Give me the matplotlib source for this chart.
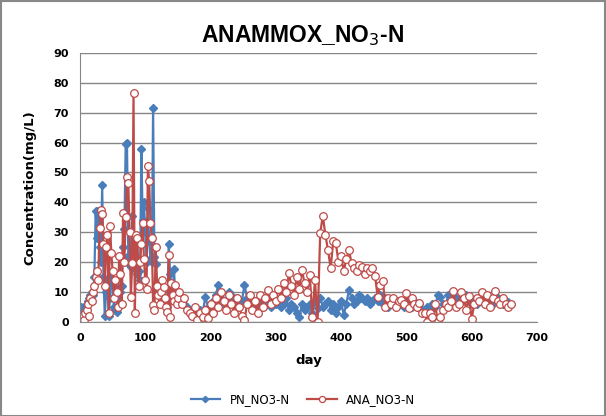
import numpy as np
import matplotlib.pyplot as plt
from matplotlib.patches import Rectangle

# sample days: every 2 days early on, every 4 days afterwards
early_days = np.arange(0, 151, 2)
late_days = np.arange(152, 661, 4)
days = np.concatenate([early_days, late_days])

ana_early = [
    0.5, 1, 2, 0.7, 3, 4, 6, 2, 8, 7,
    10, 12, 15, 17, 14, 31.5, 37.5, 36, 26, 12,
    25, 29, 3, 32, 23, 17, 8, 14, 10, 5,
    22, 16, 6, 36.5, 20, 35, 48.5, 46.5, 30, 8.5,
    19.8, 76.5, 3, 29, 28, 12, 20, 26, 33, 21,
    14, 11, 52, 47, 33, 28, 5.7, 4, 25, 12,
    9, 6, 10, 14, 11.8, 8, 5, 3.5, 22.4, 1.5,
    13, 9, 7, 12.5, 6, 8,
]
ana_late = [
    10, 6, 8, 4, 3, 2, 5, 0.7, 3, 1.5, 4, 1.2, 6,
    3, 8, 5, 10, 7, 4, 9, 6, 3, 8, 5, 2,
    0.7, 6, 9, 4, 7, 3, 9, 5, 8, 10.7, 6, 9, 7,
    11, 8, 13, 10, 16.3, 12, 9, 15, 11, 17.4, 13, 10,
    15.7, 1.8, 14, 0.1, 29.7, 35.5, 29, 24, 18, 27, 26.3, 20, 22,
    17, 21, 24, 19.8, 18, 17, 19, 18.5, 16, 18, 17, 18,
    15.4, 8.5, 12.5, 13.7, 5.1, 7.9, 6, 8, 5, 7, 7.4, 6, 9.8,
    4.6, 8, 6, 5, 6.2, 3, 2.9, 0.1, 3, 1.8, 6, 0.1,
    1.8, 4, 6, 5, 7, 10.4, 5, 6, 10.1, 8, 4, 8.7, 1,
    6, 8, 7, 10.1, 6, 9, 5, 8, 10.5, 7, 6, 8,
    6, 5.1, 6,
]

pn_early = [
    3, 5, 3, 5, 4, 6, 7, 8, 9, 10,
    9, 15, 37, 28, 37, 25, 20, 45.8, 15, 2,
    10, 14, 2, 8, 15, 12, 5, 4, 3.4, 5,
    6, 10, 12, 25, 31, 59.5, 60, 22, 19, 18.5,
    35.4, 26, 20, 17.4, 16, 17, 14, 58, 34, 40,
    30, 20, 38, 27, 21, 20, 71.7, 21.8, 19.5, 13,
    10, 9, 8, 10, 7, 6, 8, 5, 26, 16,
    10, 8, 17.6, 9, 7, 9.6,
]
pn_late = [
    9, 7, 6, 5, 4, 3, 5, 2, 4, 3, 8.5, 5, 6,
    7, 9, 12.4, 8, 6, 7, 10, 9, 6.2, 8, 5, 7,
    12.4, 8, 6, 5, 7, 6, 8, 5, 7, 6, 5, 7, 6,
    7, 5, 6, 8, 4, 6, 5, 3, 1.8, 6, 4, 5,
    6, 3, 7, 4.6, 8, 5, 6, 7, 4, 6, 3, 5, 7,
    2.3, 6, 10.7, 8, 6, 7, 9, 8, 7, 8, 6, 7,
    8, 7, 9, 6, 8, 5, 7, 6, 5, 7, 6, 5, 7,
    6, 5, 7, 5, 6, 4, 3, 5, 4, 6, 5, 9,
    8.5, 6, 5, 9, 7, 9, 8, 6, 7, 8, 9, 7, 6,
    7, 6, 8, 7, 6, 8, 7, 6, 7, 8, 7, 6,
    7, 6.8, 6,
]

ana = ana_early + ana_late
pn = pn_early + pn_late

fig = plt.figure(figsize=(6.06, 4.16), dpi=100)
ax = fig.add_axes([0.132, 0.226, 0.754, 0.647])

ax.plot(days, pn, color="#4a7ebb", linewidth=1.6, marker="D", markersize=4,
        markerfacecolor="#4a7ebb", markeredgecolor="#4a7ebb", label="PN_NO3-N")
ax.plot(days, ana, color="#be4b48", linewidth=1.6, marker="o", markersize=5.5,
        markerfacecolor="white", markeredgecolor="#be4b48", markeredgewidth=0.9,
        label="ANA_NO3-N")

ax.set_xlim(0, 700)
ax.set_ylim(0, 90)
ax.set_xticks(range(0, 701, 100))
ax.set_yticks(range(0, 91, 10))
ax.yaxis.grid(True, color="#868686", linewidth=1)
ax.set_axisbelow(True)
for side in ["top", "right"]:
    ax.spines[side].set_visible(False)
for side in ["left", "bottom"]:
    ax.spines[side].set_color("#868686")
ax.tick_params(length=0, pad=8, labelsize=8)
for lbl in ax.get_xticklabels() + ax.get_yticklabels():
    lbl.set_fontweight("bold")

ax.set_xlabel("day", fontsize=9.5, fontweight="bold", labelpad=8)
ax.set_ylabel("Concentration(mg/L)", fontsize=9.5, fontweight="bold", labelpad=12)
fig.text(0.5, 0.915, "ANAMMOX_NO$_3$-N", ha="center", va="center",
         fontsize=16.5, fontweight="bold", family="Liberation Sans")

fig.legend(loc="center", bbox_to_anchor=(0.5, 0.04), ncol=2, frameon=False,
           fontsize=8.5, handlelength=2.5, columnspacing=1.5, markerscale=0.8)

fig.patches.append(Rectangle((0.001, 0.001), 0.997, 0.997, transform=fig.transFigure,
                             fill=False, edgecolor="#888888", linewidth=1.5))

fig.savefig("out.png", dpi=100)
